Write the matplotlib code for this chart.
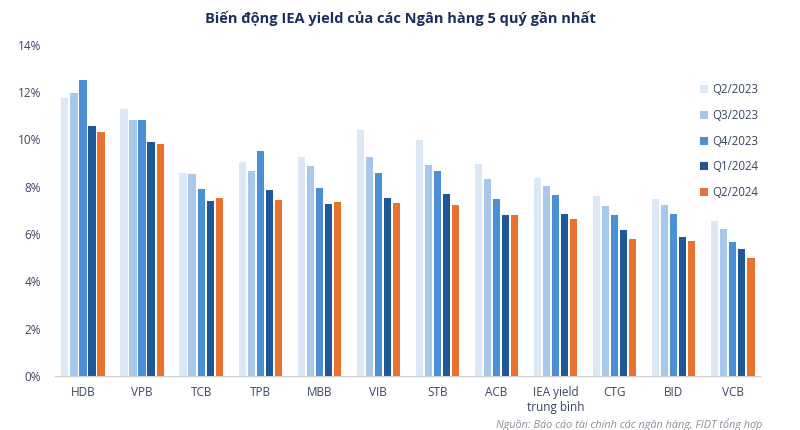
import numpy as np
import matplotlib.pyplot as plt

# Dữ liệu IEA yield (%)
banks = ["HDB", "VPB", "TCB", "TPB", "MBB", "VIB", "STB", "ACB",
         "IEA yield\ntrung bình", "CTG", "BID", "VCB"]
quarters = ["Q2/2023", "Q3/2023", "Q4/2023", "Q1/2024", "Q2/2024"]

q2_2023 = [11.75, 11.28, 8.57, 9.04, 9.26, 10.38, 9.98, 8.97, 8.38, 7.60, 7.49, 6.54]
q3_2023 = [11.96, 10.80, 8.54, 8.67, 8.87, 9.26, 8.91, 8.33, 8.01, 7.18, 7.22, 6.22]
q4_2023 = [12.49, 10.83, 7.88, 9.52, 7.95, 8.57, 8.68, 7.49, 7.63, 6.82, 6.85, 5.66]
q1_2024 = [10.55, 9.90, 7.40, 7.87, 7.25, 7.53, 7.69, 6.78, 6.85, 6.16, 5.88, 5.36]
q2_2024 = [10.29, 9.80, 7.50, 7.43, 7.36, 7.32, 7.23, 6.80, 6.63, 5.80, 5.68, 4.99]

series = [q2_2023, q3_2023, q4_2023, q1_2024, q2_2024]
colors = ["#dce8f5", "#a7c8ea", "#4b90d6", "#1f5896", "#e8722f"]

plt.rcParams["font.family"] = ["Open Sans", "DejaVu Sans"]

fig = plt.figure(figsize=(8, 4.3), dpi=100)
ax = fig.add_axes([0.069, 0.126, 0.881, 0.77])

x = np.arange(len(banks))
step = 0.153
width = 0.122
for i, (vals, c, lab) in enumerate(zip(series, colors, quarters)):
    ax.bar(x + (i - 2) * step, vals, width=width, color=c, label=lab, zorder=2)

ax.set_xlim(-0.47, len(banks) - 0.54)
ax.set_ylim(0, 14)
ax.set_yticks(np.arange(0, 15, 2))
ax.set_yticklabels([f"{v}%" for v in range(0, 15, 2)])
ax.set_xticks(x)
ax.set_xticklabels(banks, linespacing=1.2)

for s in ["top", "right", "left"]:
    ax.spines[s].set_visible(False)
ax.spines["bottom"].set_color("#d0d0d0")
ax.tick_params(axis="both", length=0, labelsize=8.5, colors="#3a4560")
ax.tick_params(axis="x", pad=7)
ax.tick_params(axis="y", pad=10)

leg = ax.legend(loc="upper left", bbox_to_anchor=(0.9, 0.915), frameon=False,
                handlelength=0.7, handleheight=0.7, handletextpad=0.4,
                labelspacing=1.1, fontsize=8.3, labelcolor="#3a4560")

fig.text(0.5, 0.957, "Biến động IEA yield của các Ngân hàng 5 quý gần nhất",
         ha="center", va="center", fontsize=10.5, fontweight="bold", color="#1b2f5e")
fig.text(0.953, 0.028, "Nguồn: Báo cáo tài chính các ngân hàng, FIDT tổng hợp",
         ha="right", va="top", fontsize=7.8, style="italic", color="#8a8f9a")

fig.savefig("out.png", dpi=100)
